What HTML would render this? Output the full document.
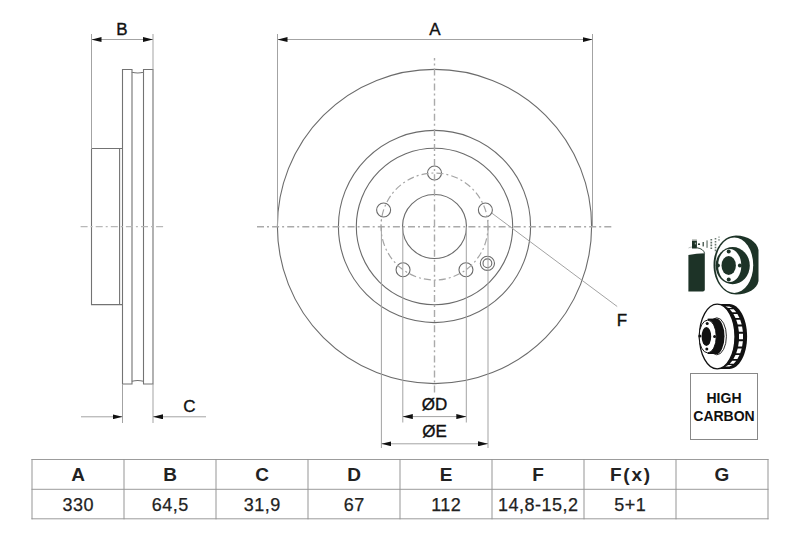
<!DOCTYPE html>
<html><head><meta charset="utf-8">
<style>
html,body{margin:0;padding:0;background:#fff;}
body{width:800px;height:533px;overflow:hidden;position:relative;font-family:"Liberation Sans",sans-serif;}
svg{position:absolute;left:0;top:0;}
.t{font-family:"Liberation Sans",sans-serif;fill:#111;}
</style></head><body>
<svg width="800" height="533" viewBox="0 0 800 533">
<defs>
<marker id="m" viewBox="0 0 10 5" refX="10" refY="2.5" markerWidth="10" markerHeight="5" orient="auto-start-reverse" markerUnits="userSpaceOnUse"><path d="M0,0 L10,2.5 L0,5z" fill="#111"/></marker>
</defs>
<g fill="none" stroke-width="1">
<!-- ===== side profile ===== -->
<g stroke="#737373" stroke-width="1.1">
<!-- hub -->
<path d="M91.5,148.5 H122.5 M91.5,148.5 V304.6 H122.5 M119.6,148.5 V304.6"/>
<!-- disk outline -->
<path d="M122.5,304.6 V69.5 H132 V72.3 Q137.7,73.6 143.5,72.3 V69.5 H153 V384 H143.5 V381.2 Q137.7,379.9 132,381.2 V384 H122.5 V148.5"/>
<path d="M132,72.3 V381.2 M143.5,72.3 V381.2"/>
</g>
<!-- B dim -->
<g stroke="#a3a3a3">
<path d="M91.5,34 V148.5 M153,34 V69.5"/>
<path d="M91.5,39.5 H153" marker-start="url(#m)" marker-end="url(#m)"/>
<!-- C dim -->
<path d="M122.5,384 V423 M153,384 V423"/>
<path d="M81,416.8 H122.5" marker-end="url(#m)"/>
<path d="M206,416.8 H153" marker-end="url(#m)"/>
</g>
<!-- side center line -->
<path d="M80.6,226.6 H166" stroke="#b8b8b8" stroke-width="1.4" stroke-dasharray="7 3 2 3.1"/>

<!-- ===== front view ===== -->
<g stroke="#6b6b6b" stroke-width="1.1">
<circle cx="434.5" cy="226.5" r="157.1"/>
<circle cx="434.5" cy="226.5" r="96.1"/>
<circle cx="434.5" cy="226.5" r="78.2"/>
<circle cx="434.5" cy="226.5" r="32"/>
<circle cx="434.5" cy="173" r="7"/>
<circle cx="485.38" cy="209.97" r="7"/>
<circle cx="465.95" cy="269.78" r="7"/>
<circle cx="403.05" cy="269.78" r="7"/>
<circle cx="383.62" cy="209.97" r="7"/>
<circle cx="487.4" cy="263.3" r="7.1"/>
<circle cx="487.4" cy="263.3" r="4.4"/>
</g>
<circle cx="434.5" cy="226.5" r="53.5" stroke="#a5a5a5" stroke-width="1.2" stroke-dasharray="7 3 2 3.1" stroke-dashoffset="3"/>
<g stroke="#aaa" stroke-width="1.4" stroke-dasharray="7 3 2 3.1">
<path d="M257,226.75 H612"/>
<path d="M434.5,58 V393" stroke-dashoffset="4.6"/>
</g>
<!-- A dim -->
<g stroke="#a3a3a3">
<path d="M277.5,34 V226 M592.5,34 V226"/>
<path d="M277.5,39.5 H592.5" marker-start="url(#m)" marker-end="url(#m)"/>
<!-- D / E -->
<path d="M402.8,226.5 V422.5 M466.3,226.5 V422.5"/>
<path d="M381.4,219.8 V221.4 M381.4,225.5 V448 M488,219.8 V221.4 M488,225.5 V448"/>
<path d="M402.8,416.6 H466.3" marker-start="url(#m)" marker-end="url(#m)"/>
<path d="M381.4,443.8 H488" marker-start="url(#m)" marker-end="url(#m)"/>
<!-- F leader -->
<path d="M491.8,213.1 L617.2,306.5"/>
</g>
</g>
<!-- labels -->
<g class="t" font-size="17" stroke="#111" stroke-width="0.35">
<text x="435" y="34.5" text-anchor="middle">A</text>
<text x="122" y="34.5" text-anchor="middle">B</text>
<text x="189.5" y="411.5" text-anchor="middle">C</text>
<text x="622" y="325.5" text-anchor="middle">F</text>
<text x="434.5" y="410" text-anchor="middle">ØD</text>
<text x="434.5" y="436.6" text-anchor="middle">ØE</text>
</g>

<!-- ===== icons ===== -->
<g fill="#1d3327">
<!-- spray can -->
<path d="M688.4,255 Q696.5,253.2 704.8,253.2 L704.8,289.5 Q704.8,291.5 702.8,291.5 L688.4,291.5z"/>
<path d="M697,247.8 Q703.6,248.8 704.6,253.4" fill="none" stroke="#1d3327" stroke-width="0.9"/>
<path d="M688.5,248 Q690,247.2 692,247" fill="none" stroke="#1d3327" stroke-width="0.6" opacity="0.5"/>
<rect x="692" y="240.4" width="4.9" height="8.1"/>
<rect x="692" y="239.2" width="4.9" height="1.4" fill="#b9bdb9"/>
<rect x="694.8" y="242.6" width="1.2" height="1.8" fill="#9aa59c"/>
<ellipse cx="699" cy="244.2" rx="1.1" ry="0.9"/>
<rect x="702.5" y="242" width="1.5" height="4.4" opacity="0.75"/>
<rect x="706.3" y="240.4" width="1.5" height="7.4" opacity="0.55"/>
<path d="M711.3,239 v1.6 m0,1.2 v1.6 m0,1.2 v1.6 m0,1.2 v1.6" stroke="#1d3327" stroke-width="1.7" fill="none" opacity="0.7"/>
<path d="M715.5,238 v1.6 m0,1.3 v1.6 m0,1.3 v1.6 m0,1.3 v1.6 m0,1.3 v1.6" stroke="#1d3327" stroke-width="1.6" fill="none" opacity="0.65"/>
<path d="M719,236.4 v1.4 m0,1.3 v1.6" stroke="#1d3327" stroke-width="1.2" fill="none" opacity="0.6"/>
<!-- disc -->
<path d="M736,235.5 C748,235.5 757,242 758.5,250 L758.5,281 C757,289 748,294.5 736,294.5 C723.6,294.5 713.5,281.3 713.5,265 C713.5,248.7 723.6,235.5 736,235.5z"/>
<ellipse cx="734.3" cy="265.2" rx="18.9" ry="27.7" fill="#fff"/>
<ellipse cx="732.7" cy="265.6" rx="17.1" ry="18.6"/>
<ellipse cx="729.7" cy="265.6" rx="11.6" ry="16.5" fill="#fff"/>
<ellipse cx="728.7" cy="265.45" rx="7.2" ry="9.45"/>
<circle cx="728.7" cy="251.5" r="2"/>
<circle cx="717.9" cy="265.6" r="2"/>
<circle cx="739.9" cy="265.6" r="2"/>
<circle cx="728.7" cy="279.4" r="2"/>
</g>

<!-- vented disc icon -->
<g fill="#111">
<path d="M717.2,304 L729.3,304 C739.1,304 747.1,318.6 747.1,336.5 C747.1,354.4 739.1,369 729.3,369 L717.2,369z"/>
<ellipse cx="717.2" cy="336.5" rx="17.8" ry="32.4" fill="#fff" stroke="#111" stroke-width="1.3"/>
<path fill="#fff" d="M725.3,306.5 L729.3,306.5 L732.3,308.1 L728.3,308.1z M729.7,309.3 L733.7,309.3 L736.3,312.2 L732.3,312.2z M733.4,314.0 L737.4,314.0 L739.5,318.0 L735.5,318.0z M736.2,319.7 L740.2,319.7 L741.7,324.5 L737.7,324.5z M738.1,326.5 L742.1,326.5 L742.9,331.7 L738.9,331.7z M739.0,333.8 L743.0,333.8 L743.0,339.2 L739.0,339.2z M738.9,341.3 L742.9,341.3 L742.1,346.5 L738.1,346.5z M737.7,348.5 L741.7,348.5 L740.2,353.3 L736.2,353.3z M735.5,355.0 L739.5,355.0 L737.4,359.0 L733.4,359.0z M732.3,360.8 L736.3,360.8 L733.7,363.7 L729.7,363.7z M728.3,364.9 L732.3,364.9 L729.3,366.5 L725.3,366.5z"/>
<!-- hub -->
<ellipse cx="716.8" cy="336.3" rx="9.6" ry="18.5" fill="#fff" stroke="#111" stroke-width="0.9"/>
<ellipse cx="716" cy="336.3" rx="8.5" ry="17.8"/>
<rect x="707.7" y="318.6" width="8.4" height="35.4"/>
<ellipse cx="707.7" cy="336.5" rx="8.6" ry="16.4" fill="#fff" stroke="#111" stroke-width="1"/>
<ellipse cx="706.4" cy="336.5" rx="4.8" ry="9.5"/>
<circle cx="707.2" cy="323.5" r="1.5"/>
<circle cx="699.9" cy="336" r="1.5"/>
<circle cx="714.6" cy="336.5" r="1.5"/>
<circle cx="706.8" cy="349" r="1.5"/>
</g>
<!-- high carbon box -->
<rect x="690.5" y="373.5" width="67" height="66" fill="none" stroke="#888" stroke-width="1"/>
<g font-family="Liberation Sans" font-weight="bold" font-size="14" fill="#111" text-anchor="middle">
<text x="724" y="403">HIGH</text>
<text x="724" y="420.5">CARBON</text>
</g>
<!-- table -->
<g fill="none" stroke-width="1">
<path stroke="#9c9c9c" d="M31.5,459.5 H768.5 M31.5,489.3 H768.5 M31.5,518.8 H768.5"/>
<path stroke="#959595" d="M32,459 V519.3 M124,459 V519.3 M216,459 V519.3 M308,459 V519.3 M400,459 V519.3 M492,459 V519.3 M584,459 V519.3 M676,459 V519.3 M768,459 V519.3"/>
</g>
<g font-family="Liberation Sans" font-weight="bold" font-size="19" fill="#222" text-anchor="middle">
<text x="78.0" y="480.6">A</text>
<text x="170.0" y="480.6">B</text>
<text x="262.0" y="480.6">C</text>
<text x="354.0" y="480.6">D</text>
<text x="446.0" y="480.6">E</text>
<text x="538.0" y="480.6">F</text>
<text x="630.9" y="480.6" letter-spacing="1.8">F(x)</text>
<text x="722.0" y="480.6">G</text>
</g>
<g font-family="Liberation Sans" font-size="18" fill="#222" stroke="#222" stroke-width="0.25" text-anchor="middle" letter-spacing="0.5">
<text x="78.25" y="510.9">330</text>
<text x="170.25" y="510.9">64,5</text>
<text x="262.25" y="510.9">31,9</text>
<text x="354.25" y="510.9">67</text>
<text x="446.25" y="510.9">112</text>
<text x="538.25" y="510.9">14,8-15,2</text>
<text x="630.25" y="510.9">5+1</text>
</g>
</svg>
</body></html>
